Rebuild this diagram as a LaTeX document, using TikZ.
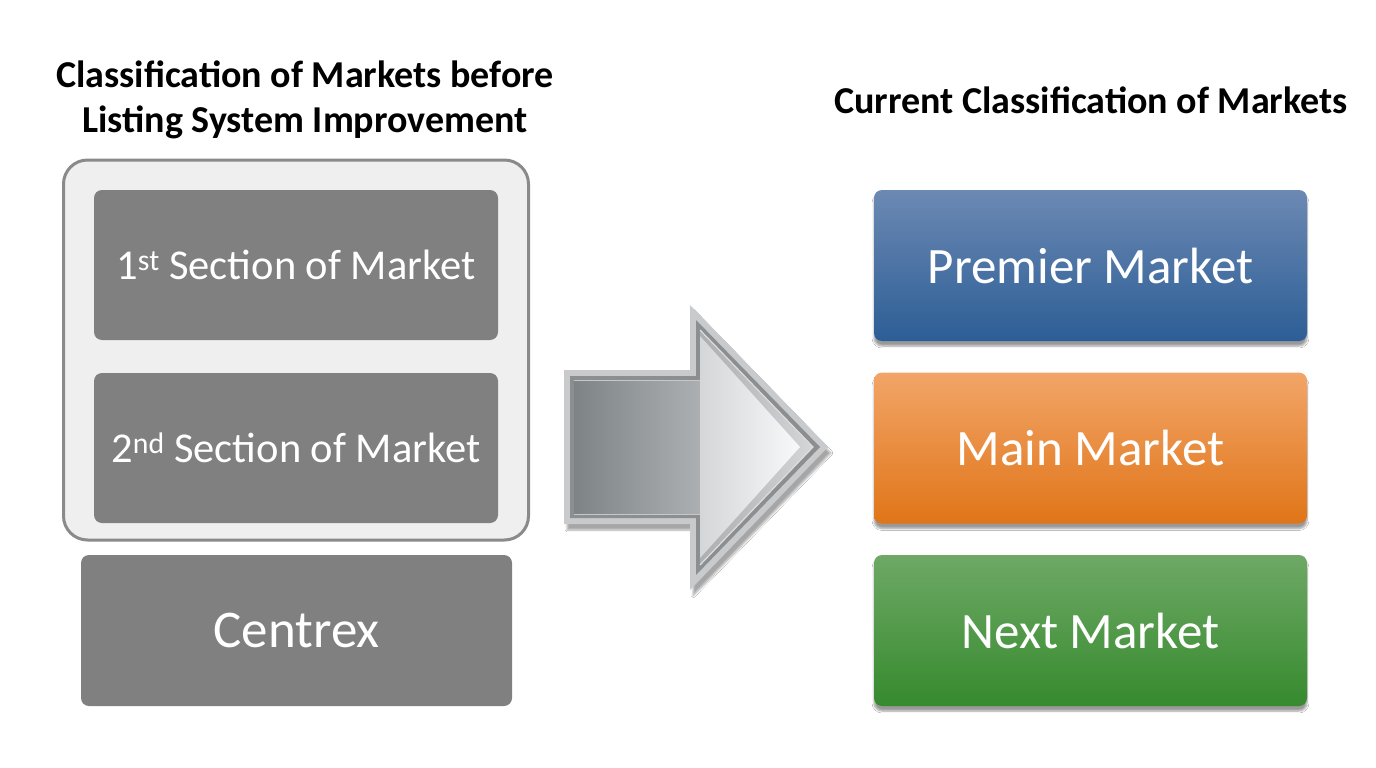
\documentclass[tikz,border=0pt]{standalone}
\usepackage{fontspec}
\setmainfont{Carlito}
\usetikzlibrary{shadows.blur,calc}
\definecolor{boxgray}{HTML}{808080}
\definecolor{outerfill}{HTML}{EFEFEF}
\definecolor{outerline}{HTML}{8A8A8A}
\definecolor{bluetop}{HTML}{6C89B3}
\definecolor{bluebot}{HTML}{2C5E96}
\definecolor{orangetop}{HTML}{F2A568}
\definecolor{orangebot}{HTML}{E07518}
\definecolor{greentop}{HTML}{6EA966}
\definecolor{greenbot}{HTML}{368A2E}
\definecolor{arrowlight}{HTML}{D4D6D8}
\definecolor{arrowdark}{HTML}{7E8486}
\definecolor{arrowrim}{HTML}{C8CACC}
\definecolor{arrowline}{HTML}{8C8F91}
\begin{document}
\begin{tikzpicture}[x=1pt,y=-1pt,
  titletext/.style={font=\fontsize{38}{45}\selectfont\bfseries, align=center, text=black, inner sep=0},
  graybox/.style={fill=boxgray, rounded corners=8pt, minimum width=404pt, minimum height=150pt,
    text=white, inner sep=0, font=\fontsize{42.5}{48}\selectfont},
  colorbox/.style={rounded corners=8pt, minimum width=433pt, minimum height=151pt,
    text=white, inner sep=0, font=\fontsize{51}{58}\selectfont,
    blur shadow={shadow xshift=0pt, shadow yshift=-5pt, shadow blur steps=6, shadow opacity=40}},
]
\useasboundingbox (0,0) rectangle (1376,768);
\fill[white] (0,0) rectangle (1376,768);

% titles
\node[titletext] (lefttitle) at (305,100) {Classification of Markets before\\Listing System Improvement};
\node[titletext] (righttitle) at (1091,100) {Current Classification of Markets};

% left group
\node[draw=outerline, line width=3pt, fill=outerfill, rounded corners=24pt,
  minimum width=465pt, minimum height=380pt, inner sep=0] (outer) at (296,350) {};
\node[graybox] (first) at (296,265) {1\textsuperscript{st} Section of Market};
\node[graybox] (second) at (296,448) {2\textsuperscript{nd} Section of Market};
\node[graybox, minimum width=431pt, minimum height=151pt, font=\fontsize{53}{58}\selectfont] (centrex) at (296.5,630.5) {Centrex};

% arrow
\coordinate (a1) at (564,370);
\coordinate (a2) at (690,370);
\coordinate (a3) at (690,305);
\coordinate (tip) at (828,447);
\coordinate (a5) at (690,590);
\coordinate (a6) at (690,524);
\coordinate (a7) at (564,524);
\fill[arrowrim, blur shadow={shadow xshift=3pt, shadow yshift=-6pt, shadow blur steps=8, shadow opacity=35}]
  (a1) -- (a2) -- (a3) -- (tip) -- (a5) -- (a6) -- (a7) -- cycle;
\coordinate (b1) at (570,376);
\coordinate (b2) at (696,376);
\coordinate (b3) at (696,320);
\coordinate (btip) at (820,447);
\coordinate (b5) at (696,575);
\coordinate (b6) at (696,518);
\coordinate (b7) at (570,518);
\fill[arrowline] (b1) -- (b2) -- (b3) -- (btip) -- (b5) -- (b6) -- (b7) -- cycle;
\shade[left color=arrowdark, right color=arrowlight]
  (574,380) -- (700,380) -- (700,330) -- (813,447) -- (700,565) -- (700,514) -- (574,514) -- cycle;
\shade[left color=arrowlight, right color=white!85!arrowlight]
  (700,336) -- (800,447) -- (700,558) -- cycle;
\draw[white!70!arrowline, line width=1.2pt] (700,330) -- (813,447) -- (700,565);
\draw[white!50!arrowline, line width=1pt] (574,380) -- (700,380);
\draw[white!50!arrowline, line width=1pt] (574,514) -- (700,514);

% right group
\node[colorbox, top color=bluetop, bottom color=bluebot] (premier) at (1090.5,265.5) {Premier Market};
\node[colorbox, top color=orangetop, bottom color=orangebot] (main) at (1090.5,448) {Main Market};
\node[colorbox, top color=greentop, bottom color=greenbot] (next) at (1090.5,630.5) {Next Market};
\end{tikzpicture}
\end{document}
